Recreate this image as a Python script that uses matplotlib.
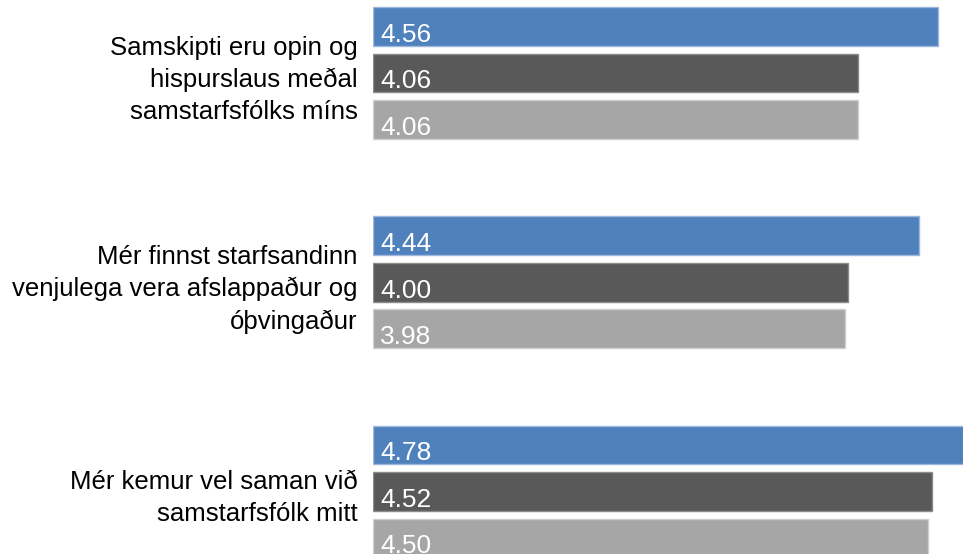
import matplotlib

matplotlib.use("Agg")
import matplotlib.pyplot as plt

plt.rcParams["font.family"] = ["Liberation Sans", "DejaVu Sans"]

categories = [
    "Samskipti eru opin og\nhispurslaus meðal\nsamstarfsfólks míns",
    "Mér finnst starfsandinn\nvenjulega vera afslappaður og\nóþvingaður",
    "Mér kemur vel saman við\nsamstarfsfólk mitt",
]
series_a = [4.56, 4.44, 4.78]   # blue
series_b = [4.06, 4.00, 4.52]   # dark gray
series_c = [4.06, 3.98, 4.50]   # light gray

COLORS = ["#4F81BD", "#595959", "#A6A6A6"]
EDGES = ["#9DB8DC", "#8C8C8C", "#CFCFCF"]
XMIN, XMAX = 1.03, 4.716
GROUP_STEP = 4.5
BAR_H = 0.83

W, H = 963, 554
fig = plt.figure(figsize=(W / 100, H / 100), dpi=100)
left = 373 / W
ax = fig.add_axes([left, 0, 1 - left, 1])

for g, cat in enumerate(categories):
    vals = [series_a[g], series_b[g], series_c[g]]
    for j, v in enumerate(vals):
        y = g * GROUP_STEP + j
        ax.barh(y, v - XMIN, left=XMIN, height=BAR_H, color=COLORS[j],
                edgecolor=EDGES[j], linewidth=1.0)
        ax.annotate(f"{v:.2f}", xy=(XMIN, y), xytext=(5, -11),
                    textcoords="offset points", ha="left", va="baseline",
                    fontsize=19, color="white")
    ax.annotate(cat, xy=(XMIN, g * GROUP_STEP + 1), xytext=(-11, -5),
                textcoords="offset points", ha="right", va="center",
                multialignment="right", fontsize=18.5, color="black",
                linespacing=1.42, annotation_clip=False)

ax.set_xlim(XMIN, XMAX)
ax.set_ylim((H - 26.5) / 46.5, -26.5 / 46.5)
ax.axis("off")

fig.savefig("out.png", dpi=100)
